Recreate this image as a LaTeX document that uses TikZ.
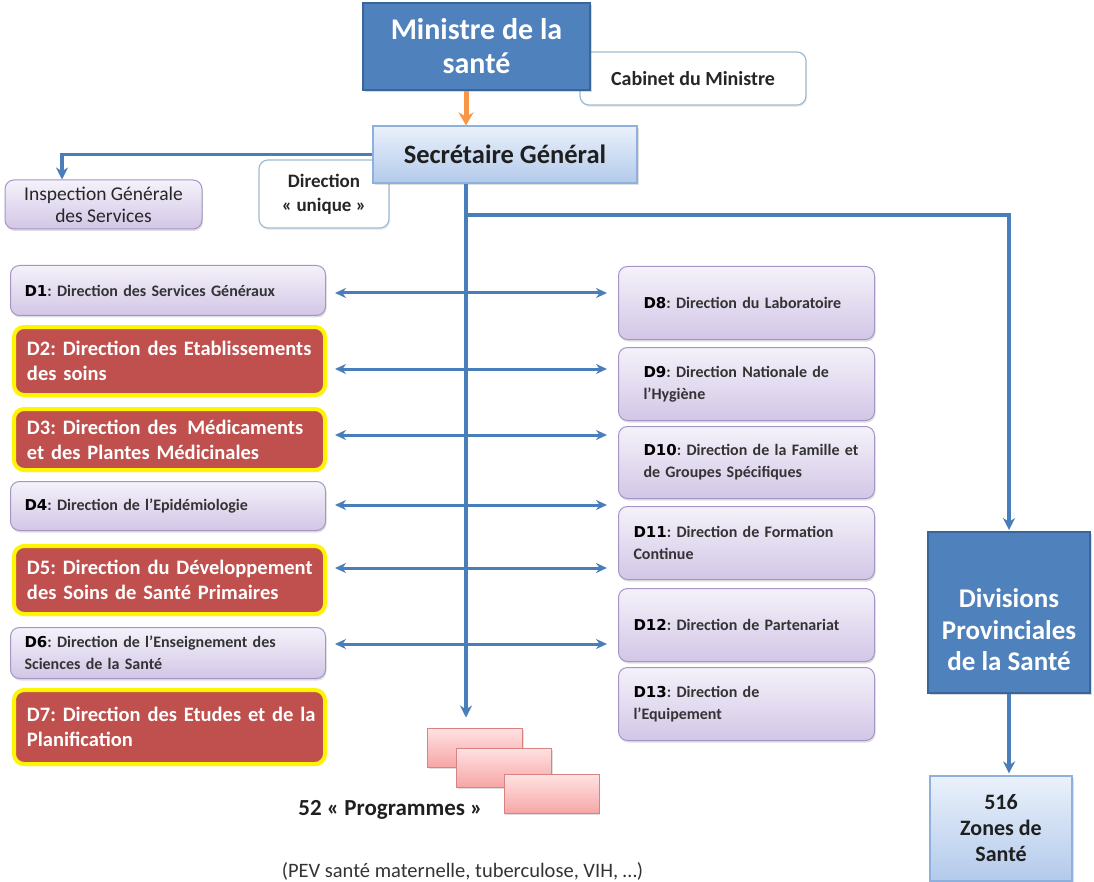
\documentclass[tikz,border=0pt]{standalone}
\usepackage{fontspec}
\setmainfont{Carlito}
\newfontfamily\dejavu{DejaVu Sans}
\usetikzlibrary{arrows.meta,shadows}
\definecolor{darkblue}{HTML}{4F81BD}
\definecolor{darkblueb}{HTML}{3A6599}
\definecolor{lineblue}{HTML}{4A7EBB}
\definecolor{lavtop}{HTML}{F5F2FA}
\definecolor{lavbot}{HTML}{D2C6E6}
\definecolor{lavline}{HTML}{A495C6}
\definecolor{redfill}{HTML}{C0504D}
\definecolor{ylw}{HTML}{FFF500}
\definecolor{sgtop}{HTML}{EAF1FB}
\definecolor{sgbot}{HTML}{B3CAEB}
\definecolor{sgline}{HTML}{8DB0DC}
\definecolor{pinktop}{HTML}{FFE2E2}
\definecolor{pinkbot}{HTML}{F6A6A6}
\definecolor{pinkline}{HTML}{D88282}
\definecolor{orng}{HTML}{F79646}
\definecolor{wline}{HTML}{9FBAD3}
\definecolor{txtgray}{HTML}{333333}
\newcommand\dlab[1]{{\dejavu\fontsize{15}{22}\selectfont\color{black}#1}}
\frenchspacing
\begin{document}
\begin{tikzpicture}[x=1pt,y=-1pt,
  conn/.style={draw=lineblue, line width=3.2pt, -{Stealth[length=12pt,width=12pt]}},
  biconn/.style={draw=lineblue, line width=3pt, {Stealth[length=11pt,width=10pt]}-{Stealth[length=11pt,width=10pt]}},
  wbox/.style={rounded corners=9pt, draw=wline, line width=1.2pt, fill=white, align=center, text=black!85,
    drop shadow={opacity=0.15, shadow xshift=1pt, shadow yshift=-2pt}},
  darkbox/.style={draw=darkblueb, line width=2pt, fill=darkblue, align=center, text=white,
    drop shadow={opacity=0.3, shadow xshift=2pt, shadow yshift=-2pt}},
  lbbox/.style={draw=sgline, line width=1.2pt, top color=sgtop, bottom color=sgbot, align=center, text=black!88,
    drop shadow={opacity=0.25, shadow xshift=2pt, shadow yshift=-2pt}},
  lavbase/.style={rounded corners=9pt, draw=lavline, line width=1pt, top color=lavtop, bottom color=lavbot,
    drop shadow={opacity=0.25, shadow xshift=1pt, shadow yshift=-2pt}},
  lavd/.style={lavbase, anchor=north west, align=left, inner ysep=0pt, text=txtgray,
    font=\fontsize{16}{22}\selectfont\bfseries},
  redd/.style={rounded corners=10pt, draw=ylw, line width=4pt, fill=redfill, anchor=north west, align=left,
    inner ysep=0pt, text=white, font=\fontsize{20.5}{25}\selectfont\bfseries,
    drop shadow={opacity=0.3, shadow xshift=1pt, shadow yshift=-2pt}},
  leftlav/.style={lavd, minimum width=315pt, text width=287pt, inner xsep=14pt},
  leftred/.style={redd, minimum width=311pt, text width=285pt, inner xsep=13pt},
  rightlav/.style={lavd, minimum width=256pt, text width={256pt-2*#1}, inner xsep=#1},
  prog/.style={draw=pinkline, line width=1pt, top color=pinktop, bottom color=pinkbot,
    minimum width=95pt, minimum height=39pt, drop shadow={opacity=0.25, shadow xshift=1pt, shadow yshift=-1.5pt}}
]
\useasboundingbox (0,0) rectangle (1094,882);

% top part
\node[wbox, minimum width=226pt, minimum height=53pt, font=\fontsize{20}{24}\selectfont\bfseries] (cab) at (693,78.5) {Cabinet du Ministre};
\node[darkbox, minimum width=227pt, minimum height=87pt, font=\fontsize{30}{34}\selectfont\bfseries] (min) at (476.5,46.5) {Ministre de la\\santé};
\node[wbox, minimum width=130pt, minimum height=68pt, font=\fontsize{19}{24}\selectfont\bfseries] (dir) at (324,194) {Direction\\« unique »};
\node[lbbox, minimum width=264pt, minimum height=57pt, font=\fontsize{26.5}{30}\selectfont\bfseries] (sg) at (505,154.5) {Secrétaire Général};
\node[lavbase, minimum width=197pt, minimum height=49pt, align=center, text=black!85, font=\fontsize{19.5}{22}\selectfont] (insp) at (103.5,204.5) {Inspection Générale\\des Services};

% left directions
\node[leftlav, minimum height=50pt] (d1) at (10,265) {\mbox{\dlab{D1}: Direction des Services Généraux}};
\node[leftred, minimum height=68pt] (d2) at (12,325) {\mbox{D2: Direction des Etablissements}\\\mbox{des soins}};
\node[leftred, minimum height=61pt] (d3) at (12,407) {\mbox{D3: Direction des\ \,Médicaments}\\\mbox{et des Plantes Médicinales}};
\node[leftlav, minimum height=49pt] (d4) at (10,481) {\mbox{\dlab{D4}: Direction de l’Epidémiologie}};
\node[leftred, minimum height=68pt] (d5) at (12,544) {\mbox{D5: Direction du Développement}\\\mbox{des Soins de Santé Primaires}};
\node[leftlav, minimum height=51pt] (d6) at (10,627) {\mbox{\dlab{D6}: Direction de l’Enseignement des}\\\mbox{Sciences de la Santé}};
\node[leftred, minimum height=74pt] (d7) at (12,688) {\mbox{D7: Direction des Etudes et de la}\\\mbox{Planification}};

% right directions
\node[rightlav=25pt, minimum height=73pt] (d8) at (618,266) {\mbox{\dlab{D8}: Direction du Laboratoire}};
\node[rightlav=25pt, minimum height=73pt] (d9) at (618,347) {\mbox{\dlab{D9}: Direction Nationale de}\\\mbox{l’Hygiène}};
\node[rightlav=25pt, minimum height=72pt] (d10) at (618,426) {\mbox{\dlab{D10}: Direction de la Famille et}\\\mbox{de Groupes Spécifiques}};
\node[rightlav=15pt, minimum height=73pt] (d11) at (618,506) {\mbox{\dlab{D11}: Direction de Formation}\\\mbox{Continue}};
\node[rightlav=15pt, minimum height=73pt] (d12) at (618,588) {\mbox{\dlab{D12}: Direction de Partenariat}};
\node[rightlav=15pt, minimum height=73pt] (d13) at (618,667) {\mbox{\dlab{D13}: Direction de}\\\mbox{l’Equipement}};

% programmes
\node[prog] (p1) at (475,747.5) {};
\node[prog] (p2) at (504,767.5) {};
\node[prog] (p3) at (551.5,794) {};
\node[font=\fontsize{23}{26}\selectfont\bfseries, text=black!88] (plab) at (390.5,810) {52 « Programmes »};
\node[font=\fontsize{20.5}{22}\selectfont, text=black!80] (psub) at (462.5,871) {(PEV santé maternelle, tuberculose, VIH, …)};

% provincial
\node[darkbox, minimum width=162pt, minimum height=161pt] (div) at (1009,612.5) {};
\node[align=center, text=white, font=\fontsize{27}{31.5}\selectfont\bfseries] (divt) at (1009,630) {Divisions\\Provinciales\\de la Santé};
\node[lbbox, minimum width=142pt, minimum height=105pt, font=\fontsize{22}{26}\selectfont\bfseries] (zones) at (1001,828.5) {516\\Zones de\\Santé};

% connectors
\coordinate (vx) at (466,0);
\coordinate (ix) at (62,0);
\coordinate (br) at (466,215);
\draw[draw=orng, line width=5pt, -{Stealth[length=13pt,width=15pt]}] (min.south -| vx) -- (sg.north -| vx);
\draw[conn] (sg.west) -| (ix |- insp.north);
\foreach \i/\yy in {1/293,2/369,3/435,4/505,5/568,6/644}{
  \coordinate (al\i) at (335,\yy);
  \coordinate (ar\i) at (607,\yy);
  \draw[biconn] (al\i) -- (ar\i);
}
\draw[conn, shorten >=10pt] (sg.south -| vx) -- (p1.north -| vx);
\draw[conn, shorten >=1pt] (br) -| (div.north);
\draw[conn, shorten >=2pt] (div.south) -- (div.south |- zones.north);
\end{tikzpicture}
\end{document}
